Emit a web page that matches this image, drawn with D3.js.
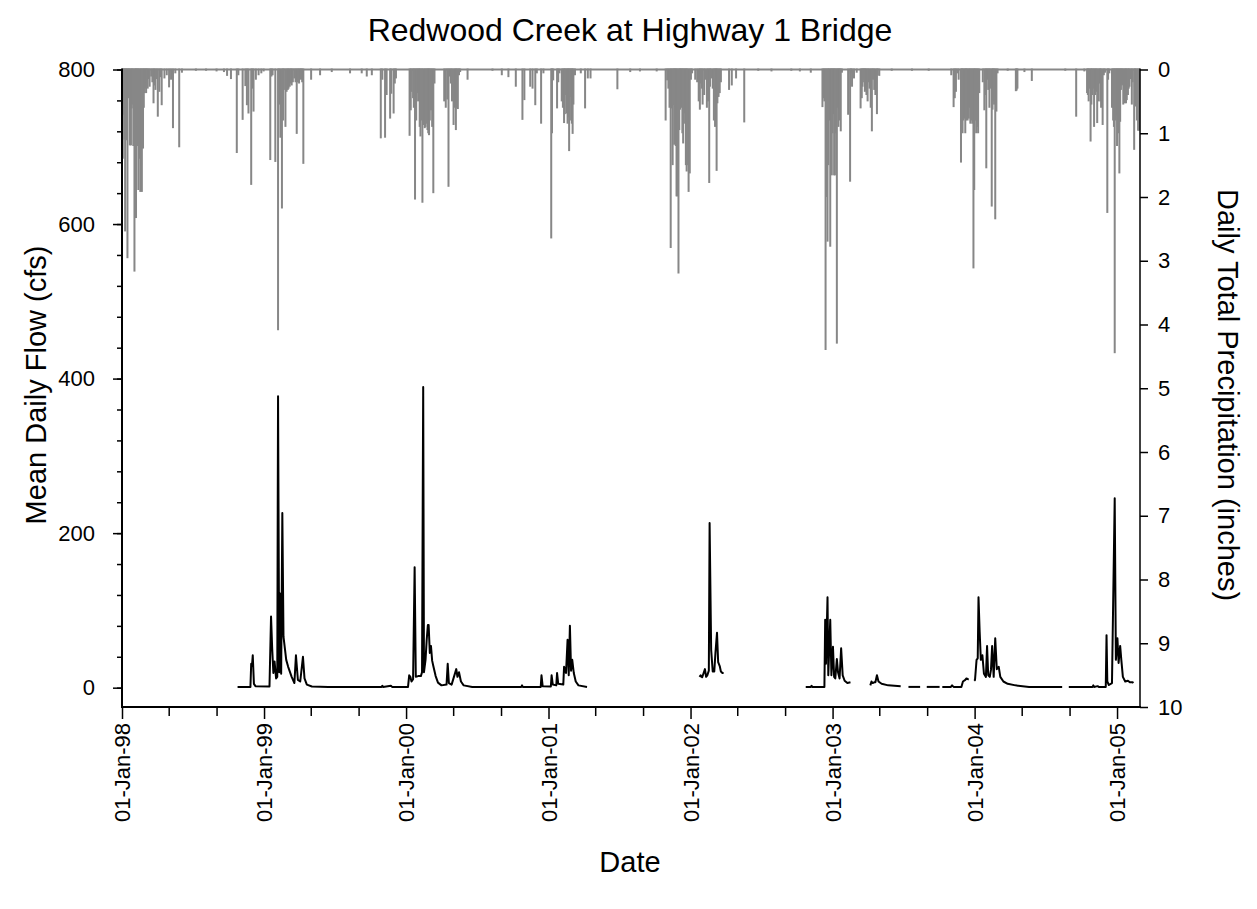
<!DOCTYPE html>
<html><head><meta charset="utf-8">
<script src="https://cdn.jsdelivr.net/npm/d3@7"></script>
<style>body{margin:0;background:#fff;} text{font-family:"Liberation Sans",Arial,sans-serif;fill:#000;}</style>
</head><body><svg id="c" width="1257" height="909"></svg>
<script>
// ---------- DATA ----------
const chartTitle = "Redwood Creek at Highway 1 Bridge";
const leftLabel = "Mean Daily Flow (cfs)";
const rightLabel = "Daily Total Precipitation (inches)";
const bottomLabel = "Date";
const leftTicks = [0,200,400,600,800];
const rightTicks = [0,1,2,3,4,5,6,7,8,9,10];
const xTickDates = ["1998-01-01","1999-01-01","2000-01-01","2001-01-01","2002-01-01","2003-01-01","2004-01-01","2005-01-01"];
const xTickLabels = ["01-Jan-98","01-Jan-99","01-Jan-00","01-Jan-01","01-Jan-02","01-Jan-03","01-Jan-04","01-Jan-05"];

// daily precipitation (inches), [date, value]
const precip1998 = [["1998-01-03",1.40],["1998-01-05",0.71],["1998-01-07",1.10],["1998-01-09",2.54],["1998-01-11",0.60],["1998-01-13",1.11],["1998-01-15",2.96],["1998-01-17",0.45],["1998-01-19",0.32],["1998-01-21",1.19],["1998-01-24",1.19],["1998-01-26",0.61],["1998-01-28",0.55],["1998-01-30",1.20],["1998-02-02",3.17],["1998-02-04",1.30],["1998-02-06",2.33],["1998-02-08",0.90],["1998-02-10",1.20],["1998-02-12",1.89],["1998-02-14",1.40],["1998-02-17",1.92],["1998-02-19",1.50],["1998-02-21",1.92],["1998-02-24",1.24],["1998-02-26",0.60],["1998-02-28",0.37],["1998-03-02",0.30],["1998-03-04",0.37],["1998-03-06",0.20],["1998-03-08",0.30],["1998-03-11",0.15],["1998-03-13",0.27],["1998-03-17",0.11],["1998-03-20",0.20],["1998-03-23",0.53],["1998-03-25",0.25],["1998-03-28",0.32],["1998-03-31",0.15],["1998-04-03",0.74],["1998-04-07",0.35],["1998-04-10",0.12],["1998-04-13",0.56],["1998-04-20",0.14],["1998-04-26",0.09],["1998-05-02",0.28],["1998-05-07",0.16],["1998-05-12",0.92],["1998-05-18",0.06],["1998-05-28",1.22],["1998-06-04",0.05],["1998-07-10",0.02],["1998-08-05",0.02],["1998-09-01",0.03],["1998-09-20",0.04],["1998-09-28",0.10],["1998-10-08",0.15],["1998-10-23",1.31],["1998-10-27",0.09],["1998-11-07",0.79],["1998-11-14",0.26],["1998-11-18",0.56],["1998-11-22",0.69],["1998-11-29",1.81],["1998-12-02",0.30],["1998-12-05",0.66],["1998-12-11",0.16],["1998-12-18",0.09],["1998-12-25",0.06],["1998-12-31",0.03]];
const precip1999 = [["1999-01-17",1.42],["1999-01-20",0.11],["1999-01-23",0.09],["1999-01-30",1.45],["1999-02-06",4.09],["1999-02-09",0.55],["1999-02-12",1.07],["1999-02-16",2.18],["1999-02-19",0.80],["1999-02-21",0.32],["1999-02-25",0.90],["1999-02-28",0.35],["1999-03-03",0.32],["1999-03-05",0.30],["1999-03-08",0.27],["1999-03-11",0.22],["1999-03-13",0.25],["1999-03-16",0.20],["1999-03-20",0.14],["1999-03-23",0.20],["1999-03-26",1.01],["1999-03-29",0.20],["1999-04-01",0.22],["1999-04-04",0.15],["1999-04-06",0.16],["1999-04-09",0.20],["1999-04-12",1.48],["1999-05-02",0.16],["1999-05-25",0.09],["1999-06-24",0.04],["1999-08-10",0.06],["1999-09-09",0.06],["1999-09-22",0.11],["1999-10-05",0.09],["1999-10-28",1.08],["1999-11-01",0.16],["1999-11-08",1.07],["1999-11-12",0.40],["1999-11-21",0.77],["1999-11-24",0.38],["1999-11-30",0.69],["1999-12-03",0.22],["1999-12-06",0.14]];
const precip2000 = [["2000-01-10",1.04],["2000-01-13",0.64],["2000-01-15",0.35],["2000-01-19",0.45],["2000-01-21",0.60],["2000-01-24",2.04],["2000-01-27",0.80],["2000-01-29",0.37],["2000-02-01",0.50],["2000-02-03",0.48],["2000-02-05",0.90],["2000-02-07",1.05],["2000-02-10",0.80],["2000-02-12",2.09],["2000-02-15",0.87],["2000-02-18",0.92],["2000-02-20",0.90],["2000-02-23",0.85],["2000-02-25",0.95],["2000-02-27",1.00],["2000-02-29",1.03],["2000-03-02",0.80],["2000-03-05",0.64],["2000-03-08",0.90],["2000-03-11",1.94],["2000-03-14",0.22],["2000-04-08",0.50],["2000-04-12",0.60],["2000-04-16",0.47],["2000-04-19",1.84],["2000-04-22",0.11],["2000-04-25",0.22],["2000-04-28",0.50],["2000-05-02",0.87],["2000-05-05",0.60],["2000-05-08",0.95],["2000-05-10",0.60],["2000-05-13",0.62],["2000-05-16",0.09],["2000-05-19",0.04],["2000-06-07",0.16],["2000-08-10",0.02],["2000-09-03",0.09],["2000-09-20",0.12],["2000-10-09",0.27],["2000-10-26",0.79],["2000-10-31",0.48],["2000-11-15",0.27],["2000-11-21",0.30],["2000-11-28",0.56],["2000-12-02",0.06],["2000-12-13",0.85],["2000-12-19",0.06]];
const precip2001 = [["2001-01-08",2.65],["2001-01-10",1.00],["2001-01-13",0.17],["2001-01-23",0.61],["2001-01-26",0.20],["2001-01-29",0.06],["2001-02-04",0.50],["2001-02-07",0.60],["2001-02-10",0.84],["2001-02-12",0.70],["2001-02-14",0.40],["2001-02-17",0.69],["2001-02-19",0.85],["2001-02-21",0.75],["2001-02-23",1.28],["2001-02-25",0.43],["2001-02-28",0.80],["2001-03-02",0.85],["2001-03-04",1.01],["2001-03-06",0.55],["2001-03-10",0.09],["2001-03-25",0.06],["2001-04-05",0.61],["2001-04-12",0.14],["2001-04-19",0.14],["2001-06-27",0.31],["2001-07-30",0.04],["2001-08-24",0.03],["2001-10-06",0.03],["2001-10-29",0.80],["2001-11-02",0.17],["2001-11-05",0.30],["2001-11-08",0.60],["2001-11-11",2.80],["2001-11-13",0.61],["2001-11-16",1.50],["2001-11-18",0.56],["2001-11-20",1.18],["2001-11-22",0.58],["2001-11-24",1.20],["2001-11-26",1.99],["2001-11-28",1.99],["2001-12-01",3.20],["2001-12-03",0.95],["2001-12-05",0.63],["2001-12-07",0.50],["2001-12-09",0.60],["2001-12-11",1.00],["2001-12-13",1.16],["2001-12-15",0.85],["2001-12-18",0.69],["2001-12-20",1.50],["2001-12-22",1.60],["2001-12-24",1.50],["2001-12-27",1.92],["2001-12-30",1.63]];
const precip2002 = [["2002-01-02",0.16],["2002-01-05",0.06],["2002-01-13",0.16],["2002-01-18",0.20],["2002-01-22",0.50],["2002-01-25",0.63],["2002-01-27",0.22],["2002-01-30",0.30],["2002-02-01",0.55],["2002-02-05",0.40],["2002-02-08",0.16],["2002-02-12",0.60],["2002-02-15",0.50],["2002-02-18",1.78],["2002-02-20",0.27],["2002-02-23",0.14],["2002-02-27",0.30],["2002-03-02",0.80],["2002-03-05",0.90],["2002-03-07",0.80],["2002-03-09",1.59],["2002-03-11",0.53],["2002-03-14",0.43],["2002-03-17",0.37],["2002-03-20",0.20],["2002-04-10",0.32],["2002-04-17",0.25],["2002-04-28",0.14],["2002-05-19",0.83],["2002-06-24",0.02],["2002-07-28",0.03],["2002-09-17",0.02],["2002-10-09",0.03],["2002-11-06",0.05],["2002-12-06",0.59],["2002-12-09",0.45],["2002-12-11",0.50],["2002-12-14",4.40],["2002-12-16",2.00],["2002-12-19",2.70],["2002-12-21",1.50],["2002-12-23",0.80],["2002-12-26",2.78],["2002-12-28",0.80],["2002-12-30",1.66]];
const precip2003 = [["2003-01-01",1.00],["2003-01-03",0.70],["2003-01-05",1.66],["2003-01-07",1.66],["2003-01-09",1.00],["2003-01-12",4.30],["2003-01-14",0.60],["2003-01-16",0.90],["2003-01-18",0.61],["2003-01-20",0.80],["2003-01-22",0.97],["2003-01-25",0.05],["2003-02-10",0.71],["2003-02-15",1.76],["2003-02-17",0.06],["2003-02-20",0.27],["2003-02-25",0.14],["2003-03-04",0.05],["2003-03-14",0.61],["2003-03-17",0.45],["2003-03-19",0.27],["2003-03-21",0.16],["2003-03-23",0.20],["2003-03-25",0.35],["2003-03-27",0.32],["2003-03-29",0.40],["2003-04-01",0.50],["2003-04-03",0.20],["2003-04-06",0.30],["2003-04-09",0.60],["2003-04-12",0.97],["2003-04-15",0.16],["2003-04-18",0.32],["2003-04-21",0.40],["2003-04-25",0.70],["2003-04-27",0.09],["2003-05-01",0.10],["2003-06-02",0.02],["2003-07-24",0.02],["2003-09-05",0.02],["2003-11-02",0.09],["2003-11-08",0.59],["2003-11-11",0.45],["2003-11-14",0.35],["2003-11-18",0.06],["2003-11-21",0.16],["2003-11-27",1.46],["2003-11-29",0.40],["2003-12-01",1.00],["2003-12-03",0.80],["2003-12-06",0.77],["2003-12-08",1.00],["2003-12-10",0.80],["2003-12-12",0.78],["2003-12-14",0.80],["2003-12-17",0.77],["2003-12-19",0.60],["2003-12-21",0.85],["2003-12-24",0.80],["2003-12-26",0.85],["2003-12-29",3.12],["2003-12-31",1.89]];
const precip2004 = [["2004-01-02",0.80],["2004-01-05",1.00],["2004-01-07",0.90],["2004-01-10",1.00],["2004-01-13",0.37],["2004-01-22",0.20],["2004-01-26",0.64],["2004-01-29",0.40],["2004-01-31",1.55],["2004-02-03",0.16],["2004-02-05",0.32],["2004-02-08",0.60],["2004-02-10",0.30],["2004-02-14",2.15],["2004-02-16",0.63],["2004-02-18",0.50],["2004-02-20",0.55],["2004-02-23",2.35],["2004-02-26",0.66],["2004-02-29",0.06],["2004-03-26",0.02],["2004-04-16",0.34],["2004-04-18",0.33],["2004-04-20",0.30],["2004-05-08",0.04],["2004-05-27",0.18],["2004-08-21",0.02],["2004-09-18",0.74],["2004-10-09",0.03],["2004-10-16",0.37],["2004-10-18",0.40],["2004-10-20",0.50],["2004-10-22",0.30],["2004-10-25",1.13],["2004-10-27",0.55],["2004-10-29",0.40],["2004-11-01",0.30],["2004-11-03",0.90],["2004-11-06",0.40],["2004-11-08",0.35],["2004-11-11",0.84],["2004-11-14",0.50],["2004-11-17",0.22],["2004-11-19",0.50],["2004-11-21",0.60],["2004-11-25",0.87],["2004-11-28",0.09],["2004-12-01",0.05],["2004-12-07",2.25],["2004-12-09",0.16],["2004-12-12",0.06],["2004-12-19",0.60],["2004-12-22",0.80],["2004-12-24",0.90],["2004-12-26",4.45],["2004-12-28",0.80],["2004-12-30",0.72]];
const precip2005 = [["2005-01-01",1.20],["2005-01-03",0.90],["2005-01-05",1.00],["2005-01-07",1.63],["2005-01-09",0.82],["2005-01-11",0.32],["2005-01-13",0.25],["2005-01-15",0.24],["2005-01-17",0.55],["2005-01-20",0.53],["2005-01-22",0.45],["2005-01-24",0.53],["2005-01-26",0.48],["2005-01-29",0.40],["2005-01-31",0.30],["2005-02-02",0.27],["2005-02-05",0.15],["2005-02-08",0.55],["2005-02-10",0.20],["2005-02-14",1.26],["2005-02-16",0.27],["2005-02-18",0.58],["2005-02-21",0.80],["2005-02-24",0.96],["2005-02-27",0.96]];

// mean daily flow (cfs), continuous record pieces [date, value]
const flowSeg1 = [["1998-10-25",1],["1998-11-27",1],["1998-11-29",31],["1998-12-01",28],["1998-12-03",42],["1998-12-06",5],["1998-12-10",2],["1999-01-15",1.5],["1999-01-19",92],["1999-01-22",50],["1999-01-25",19],["1999-01-28",34],["1999-02-01",12],["1999-02-04",14],["1999-02-06",377],["1999-02-09",20],["1999-02-11",122],["1999-02-14",18],["1999-02-17",226],["1999-02-20",66],["1999-02-24",49],["1999-02-27",36],["1999-03-04",27],["1999-03-13",14],["1999-03-20",6],["1999-03-24",42],["1999-03-29",10],["1999-04-04",8],["1999-04-11",40],["1999-04-15",12],["1999-04-21",4],["1999-05-04",1.5],["1999-06-15",1],["1999-10-30",1],["1999-11-01",2.5],["1999-11-03",1],["1999-11-23",2.5],["1999-11-26",1],["2000-01-06",1],["2000-01-09",16],["2000-01-12",14],["2000-01-15",8],["2000-01-19",11],["2000-01-23",156],["2000-01-26",14],["2000-02-01",15],["2000-02-08",15],["2000-02-11",20],["2000-02-14",389],["2000-02-16",20],["2000-02-20",36],["2000-02-23",62],["2000-02-26",81],["2000-02-28",81],["2000-03-02",45],["2000-03-05",54],["2000-03-08",35],["2000-03-11",28],["2000-03-17",15],["2000-03-23",6.5],["2000-04-01",3],["2000-04-14",4],["2000-04-17",31],["2000-04-20",6],["2000-04-27",4],["2000-05-09",24],["2000-05-12",14],["2000-05-16",20],["2000-05-21",8],["2000-05-28",3],["2000-06-19",1],["2000-10-23",1],["2000-10-25",3],["2000-10-27",1],["2000-12-12",1],["2000-12-14",16],["2000-12-17",2],["2001-01-07",1.5],["2001-01-09",16],["2001-01-12",4],["2001-01-21",3],["2001-01-23",19],["2001-01-26",5],["2001-02-08",4],["2001-02-10",27],["2001-02-15",19],["2001-02-19",62],["2001-02-22",16],["2001-02-25",80],["2001-02-28",22],["2001-03-03",36],["2001-03-07",19],["2001-03-12",8],["2001-03-19",3],["2001-04-10",1]];
const flowSeg2 = [["2002-01-24",14],["2002-01-27",16],["2002-01-31",13.5],["2002-02-03",18],["2002-02-07",24],["2002-02-10",14],["2002-02-13",16],["2002-02-17",22],["2002-02-19",213],["2002-02-23",49],["2002-02-27",21],["2002-03-03",21],["2002-03-06",45],["2002-03-10",71],["2002-03-13",33],["2002-03-17",28],["2002-03-20",21],["2002-03-24",19],["2002-03-27",19]];
const flowSeg3 = [["2002-10-24",1],["2002-11-06",1],["2002-11-08",2.5],["2002-11-10",1],["2002-12-11",1],["2002-12-13",88],["2002-12-15",31],["2002-12-19",117],["2002-12-21",16],["2002-12-26",88],["2002-12-29",16],["2003-01-02",53],["2003-01-05",14],["2003-01-08",12],["2003-01-12",37],["2003-01-15",20],["2003-01-19",12],["2003-01-23",51],["2003-01-27",16],["2003-02-01",9],["2003-02-08",6],["2003-02-16",7]];
const flowSeg4 = [["2003-04-08",3],["2003-04-11",8],["2003-04-14",6],["2003-04-18",7],["2003-04-21",7],["2003-04-25",16],["2003-04-29",8],["2003-05-07",5],["2003-05-24",3],["2003-06-25",2]];
const flowSeg5 = [["2003-07-15",1],["2003-08-14",1]];
const flowSeg6 = [["2003-08-31",1],["2003-10-03",1]];
const flowSeg7 = [["2003-10-10",1],["2003-11-01",1],["2003-11-04",3],["2003-11-08",1],["2003-11-28",1],["2003-12-02",8],["2003-12-08",10],["2003-12-11",12],["2003-12-15",11],["2003-12-17",11]];
const flowSeg8 = [["2003-12-31",9],["2004-01-02",10],["2004-01-06",36],["2004-01-09",38],["2004-01-11",117],["2004-01-14",72],["2004-01-17",36],["2004-01-21",42],["2004-01-25",18],["2004-01-30",14],["2004-02-02",54],["2004-02-05",16],["2004-02-09",14],["2004-02-12",23],["2004-02-15",54],["2004-02-19",14],["2004-02-23",64],["2004-02-27",24],["2004-03-03",27],["2004-03-07",14],["2004-03-15",8],["2004-03-26",5],["2004-04-15",3],["2004-05-20",1],["2004-08-13",1]];
const flowSeg9 = [["2004-08-30",1],["2004-10-30",1],["2004-11-01",3],["2004-11-03",1],["2004-11-12",2],["2004-11-15",1],["2004-12-03",1],["2004-12-05",68],["2004-12-07",8],["2004-12-11",3.5],["2004-12-19",6],["2004-12-26",245],["2004-12-29",36],["2005-01-02",64],["2005-01-05",32],["2005-01-09",54],["2005-01-12",36],["2005-01-16",14],["2005-01-22",8],["2005-01-29",9],["2005-02-03",7],["2005-02-10",7],["2005-02-12",6]];

// ---------- CHART ----------
const parse = d3.utcParse("%Y-%m-%d");
const precip = [].concat(precip1998,precip1999,precip2000,precip2001,precip2002,precip2003,precip2004,precip2005)
  .map(d => ({date: parse(d[0]), v: d[1]}));
const flowSegments = [flowSeg1,flowSeg2,flowSeg3,flowSeg4,flowSeg5,flowSeg6,flowSeg7,flowSeg8,flowSeg9]
  .map(s => s.map(d => ({date: parse(d[0]), v: d[1]})));

const L = 122, R = 1140, T = 69.5, B = 707;
const svg = d3.select("#c");
const x = d3.scaleUtc().domain([parse("1998-01-01"), parse("2005-03-01")]).range([L, R]);
const yL = d3.scaleLinear().domain([-25, 800]).range([B, T]);
const yR = d3.scaleLinear().domain([0, 10]).range([T, B]);
const gray = "#878787";

// precipitation bars hanging from top
svg.append("rect").attr("x", L).attr("y", yR(0) - 1).attr("width", R - L).attr("height", 2).attr("fill", gray);
svg.append("g").selectAll("rect").data(precip).join("rect")
  .attr("x", d => x(d.date) - 1).attr("width", 2)
  .attr("y", yR(0) - 1).attr("height", d => yR(d.v) - yR(0) + 1)
  .attr("fill", gray);

// flow line
const line = d3.line().x(d => x(d.date)).y(d => yL(d.v));
svg.append("g").selectAll("path").data(flowSegments).join("path")
  .attr("d", line).attr("fill", "none").attr("stroke", "#000").attr("stroke-width", 2)
  .attr("stroke-linejoin", "round");

// axes
const fsY = 22, fsX = 22;
const gl = svg.append("g").attr("transform", `translate(${L},0)`);
gl.call(d3.axisLeft(yL).tickValues(d3.range(0, 801, 40)).tickSize(5).tickFormat("")).call(g => g.select(".domain").remove());
gl.call(g => g.selectAll(".tick line").attr("stroke-width", 1.5));
const glm = svg.append("g").attr("transform", `translate(${L},0)`);
glm.call(d3.axisLeft(yL).tickValues(leftTicks).tickSize(9).tickPadding(18).tickSizeOuter(0))
  .call(g => g.select(".domain").remove());
glm.selectAll(".tick line").attr("stroke-width", 1.5);
glm.selectAll("text").attr("font-size", fsY).attr("font-family", "Liberation Sans, Arial, sans-serif");
svg.append("line").attr("x1", L).attr("x2", L).attr("y1", T - 1).attr("y2", B + 1).attr("stroke", "#000").attr("stroke-width", 2);

const gr = svg.append("g").attr("transform", `translate(${R},0)`);
gr.call(d3.axisRight(yR).tickValues(rightTicks).tickSize(8).tickPadding(10).tickFormat(d3.format("d")).tickSizeOuter(0))
  .call(g => g.select(".domain").remove());
gr.selectAll(".tick line").attr("stroke-width", 1.5);
gr.selectAll("text").attr("font-size", fsY).attr("font-family", "Liberation Sans, Arial, sans-serif");
svg.append("line").attr("x1", R).attr("x2", R).attr("y1", T - 1).attr("y2", B + 1).attr("stroke", "#000").attr("stroke-width", 1.5);

const minorDates = [];
xTickDates.forEach(s => { const d = parse(s); [4, 8].forEach(m => minorDates.push(new Date(Date.UTC(d.getUTCFullYear(), m, 1)))); });
const gbm = svg.append("g").attr("transform", `translate(0,${B})`);
gbm.call(d3.axisBottom(x).tickValues(minorDates.filter(d => d < x.domain()[1])).tickSize(9).tickFormat(""))
  .call(g => g.select(".domain").remove());
gbm.selectAll(".tick line").attr("stroke-width", 1.5);
const gb = svg.append("g").attr("transform", `translate(0,${B})`);
gb.call(d3.axisBottom(x).tickValues(xTickDates.map(parse)).tickSize(12)
  .tickFormat((d, i) => xTickLabels[i]).tickSizeOuter(0))
  .call(g => g.select(".domain").remove());
gb.selectAll(".tick line").attr("stroke-width", 1.5);
gb.selectAll("text").attr("font-size", fsX).attr("font-family", "Liberation Sans, Arial, sans-serif")
  .attr("text-anchor", "end").attr("transform", "rotate(-90)")
  .attr("x", -16).attr("y", 0).attr("dy", "0.35em");
svg.append("line").attr("x1", L - 1).attr("x2", R + 1).attr("y1", B).attr("y2", B).attr("stroke", "#000").attr("stroke-width", 2);

// titles
svg.append("text").attr("x", 630).attr("y", 41).attr("text-anchor", "middle").attr("font-size", 32).text(chartTitle);
svg.append("text").attr("transform", "translate(36,385) rotate(-90)").attr("text-anchor", "middle").attr("dy", "0.35em").attr("font-size", 29).text(leftLabel);
svg.append("text").attr("transform", "translate(1228,395) rotate(90)").attr("text-anchor", "middle").attr("dy", "0.35em").attr("font-size", 29).text(rightLabel);
svg.append("text").attr("x", 630).attr("y", 872).attr("text-anchor", "middle").attr("font-size", 29).text(bottomLabel);
</script></body></html>
